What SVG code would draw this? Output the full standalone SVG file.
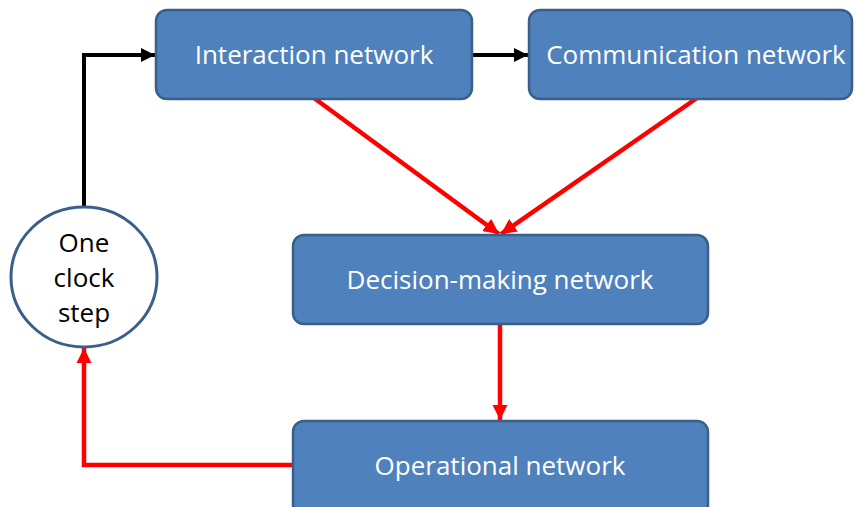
<svg xmlns="http://www.w3.org/2000/svg" width="854" height="507" viewBox="0 0 854 507">
<style>
.box{fill:#4F81BD;stroke:#3A5F8B;stroke-width:2.5}
.lbl{fill:#fff;font-family:"Open Sans","Liberation Sans",sans-serif;font-size:26px;text-anchor:middle}
.clk{fill:#000;font-family:"Open Sans","Liberation Sans",sans-serif;font-size:26px;text-anchor:middle}
.blk{fill:none;stroke:#000;stroke-width:4}
.red{fill:none;stroke:#FF0000;stroke-width:4.5}
</style>
<defs>
<marker id="ab" viewBox="0 0 10 10" refX="10" refY="5" markerWidth="3.6" markerHeight="3.6" orient="auto" markerUnits="strokeWidth"><path d="M0,0L10,5L0,10z" fill="#000"/></marker>
<marker id="ar" viewBox="0 0 10 10" refX="10" refY="5" markerWidth="3.4" markerHeight="3.4" orient="auto" markerUnits="strokeWidth"><path d="M0,0L10,5L0,10z" fill="#FF0000"/></marker>
</defs>
<g id="connectors">
<path class="blk" d="M84,206V55H155" marker-end="url(#ab)"/>
<path class="blk" d="M472,55H528" marker-end="url(#ab)"/>
<path class="red" d="M314,98L499,234" marker-end="url(#ar)"/>
<path class="red" d="M697,98L501,234" marker-end="url(#ar)"/>
<path class="red" d="M500,324V420" marker-end="url(#ar)"/>
<path class="red" d="M293,465H84V348" marker-end="url(#ar)"/>
</g>
<g id="interaction">
<rect class="box" x="156" y="10" width="316" height="89" rx="11"/>
<text class="lbl" x="314" y="64">Interaction network</text>
</g>
<g id="communication">
<rect class="box" x="529" y="10" width="323" height="89" rx="11"/>
<text class="lbl" x="696" y="64">Communication network</text>
</g>
<g id="decision">
<rect class="box" x="293" y="235" width="415" height="89" rx="11"/>
<text class="lbl" x="500" y="289">Decision-making network</text>
</g>
<g id="operational">
<rect class="box" x="293" y="421" width="415" height="95" rx="11"/>
<text class="lbl" x="500" y="475">Operational network</text>
</g>
<g id="clock">
<ellipse cx="84" cy="277" rx="73" ry="70" fill="#fff" stroke="#3A5F8B" stroke-width="3"/>
<text class="clk" x="84" y="252">One</text>
<text class="clk" x="84" y="287">clock</text>
<text class="clk" x="84" y="322">step</text>
</g>
</svg>
